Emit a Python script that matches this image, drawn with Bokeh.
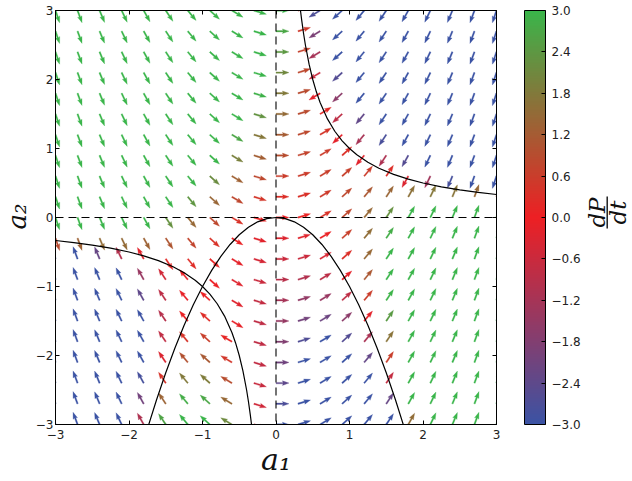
import math
from bokeh.plotting import figure
from bokeh.layouts import row
from bokeh.models import (LinearColorMapper, ColorBar, FixedTicker, CustomJSTickFormatter,
                          LinearAxis, Span, Label, BoxAnnotation, ColumnDataSource)
from bokeh.embed import file_html
from bokeh.resources import INLINE

# ---------------- data ----------------
a1_grid = [-3.0, -2.7, -2.4, -2.1, -1.8, -1.5, -1.2, -0.9, -0.6, -0.3, 0.0,
           0.3, 0.6, 0.9, 1.2, 1.5, 1.8, 2.1, 2.4, 2.7, 3.0]
a2_grid = [3.0, 2.7, 2.4, 2.1, 1.8, 1.5, 1.2, 0.9, 0.6, 0.3, 0.0,
           -0.3, -0.6, -0.9, -1.2, -1.5, -1.8, -2.1, -2.4, -2.7, -3.0]
# slope (rise/run on screen) of the arrows in each column
arrow_slope = [-3.0, -2.7, -2.4, -2.1, -1.8, -1.5, -1.2, -0.9, -0.6, -0.3, 0.0,
               0.3, 0.6, 0.9, 1.2, 1.5, 1.8, 2.1, 2.4, 2.7, 3.0]
# "+" arrow points to the right along its slope, "-" it points to the left
flow_sign = [
    "++++++++++++---------",
    "++++++++++++---------",
    "++++++++++++---------",
    "++++++++++++---------",
    "++++++++++++---------",
    "+++++++++++++--------",
    "+++++++++++++--------",
    "++++++++++++++-------",
    "++++++++++++++++-----",
    "+++++++++++++++++++++",
    "+++++++++++++++++++++",
    "+++++++++++++++++++++",
    "-----++++++++++++++++",
    "-------++++++++++++++",
    "--------+++++++++++++",
    "--------+++++++++++++",
    "---------++++++++++++",
    "---------++++++++++++",
    "---------++++++++++++",
    "---------++++++++++++",
    "---------++++++++++++",
]
# dP/dt colour value of each arrow (clipped to the colour bar range)
dPdt = [
    [3, 3, 3, 3, 3, 3, 3, 3, 3, 3, 3, 0.31, -2.69, -3, -3, -3, -3, -3, -3, -3, -3],
    [3, 3, 3, 3, 3, 3, 3, 3, 3, 3, 2.7, 0.53, -1.90, -3, -3, -3, -3, -3, -3, -3, -3],
    [3, 3, 3, 3, 3, 3, 3, 3, 3, 3, 2.4, 0.70, -1.21, -3, -3, -3, -3, -3, -3, -3, -3],
    [3, 3, 3, 3, 3, 3, 3, 3, 3, 3, 2.1, 0.81, -0.64, -2.59, -3, -3, -3, -3, -3, -3, -3],
    [3, 3, 3, 3, 3, 3, 3, 3, 3, 2.91, 1.8, 0.87, -0.17, -1.62, -3, -3, -3, -3, -3, -3, -3],
    [3, 3, 3, 3, 3, 3, 3, 3, 3, 2.31, 1.5, 0.87, 0.19, -0.81, -2.35, -3, -3, -3, -3, -3, -3],
    [3, 3, 3, 3, 3, 3, 3, 3, 2.68, 1.75, 1.2, 0.83, 0.44, -0.16, -1.16, -2.76, -3, -3, -3, -3, -3],
    [3, 3, 3, 3, 3, 3, 3, 3, 1.94, 1.26, 0.9, 0.72, 0.58, 0.32, -0.19, -1.10, -2.57, -3, -3, -3, -3],
    [3, 3, 3, 3, 3, 3, 3, 2.17, 1.31, 0.81, 0.6, 0.57, 0.61, 0.65, 0.57, 0.29, -0.31, -1.30, -2.80, -3, -3],
    [3, 3, 3, 3, 3, 3, 2.37, 1.41, 0.78, 0.43, 0.3, 0.35, 0.54, 0.81, 1.11, 1.40, 1.63, 1.74, 1.70, 1.44, 0.93],
    [3, 3, 3, 3, 3, 2.25, 1.44, 0.81, 0.36, 0.09, 0.0, 0.09, 0.36, 0.81, 1.44, 2.25, 3, 3, 3, 3, 3],
    [0.87, 1.33, 1.53, 1.52, 1.35, 1.07, 0.73, 0.37, 0.05, -0.19, -0.3, -0.23, 0.07, 0.65, 1.55, 2.83, 3, 3, 3, 3, 3],
    [-3, -3, -2.27, -0.99, -0.21, 0.17, 0.24, 0.10, -0.15, -0.42, -0.6, -0.60, -0.33, 0.32, 1.44, 3, 3, 3, 3, 3, 3],
    [-3, -3, -3, -3, -1.45, -0.47, -0.04, -0.02, -0.25, -0.59, -0.9, -1.03, -0.83, -0.16, 1.12, 3, 3, 3, 3, 3, 3],
    [-3, -3, -3, -3, -2.37, -0.84, -0.11, 0.03, -0.24, -0.71, -1.2, -1.51, -1.44, -0.81, 0.59, 2.94, 3, 3, 3, 3, 3],
    [-3, -3, -3, -3, -2.96, -0.94, 0.05, 0.24, -0.11, -0.78, -1.5, -2.04, -2.17, -1.62, -0.17, 2.44, 3, 3, 3, 3, 3],
    [-3, -3, -3, -3, -3, -0.77, 0.42, 0.61, 0.12, -0.79, -1.8, -2.63, -3, -2.59, -1.14, 1.67, 3, 3, 3, 3, 3],
    [-3, -3, -3, -3, -3, -0.32, 1.00, 1.15, 0.45, -0.74, -2.1, -3, -3, -3, -2.32, 0.62, 3, 3, 3, 3, 3],
    [-3, -3, -3, -3, -2.79, 0.39, 1.80, 1.84, 0.90, -0.65, -2.4, -3, -3, -3, -3, -0.69, 3, 3, 3, 3, 3],
    [-3, -3, -3, -3, -2.08, 1.37, 2.82, 2.70, 1.45, -0.50, -2.7, -3, -3, -3, -3, -2.27, 3, 3, 3, 3, 3],
    [-3, -3, -3, -3, -1.06, 2.63, 3, 3, 2.11, -0.29, -3, -3, -3, -3, -3, -3, 1.54, 3, 3, 3, 3],
]

# solid black curves
hyper_a1 = [0.333, 0.35, 0.375, 0.4, 0.45, 0.5, 0.55, 0.6, 0.7, 0.8, 0.9, 1.0, 1.1,
            1.25, 1.4, 1.6, 1.8, 2.0, 2.25, 2.5, 2.75, 3.0]
hyper_a2 = [3.0, 2.857, 2.667, 2.5, 2.222, 2.0, 1.818, 1.667, 1.429, 1.25, 1.111, 1.0,
            0.909, 0.8, 0.714, 0.625, 0.556, 0.5, 0.444, 0.4, 0.364, 0.333]
hyper3_a1 = [-3.0, -2.75, -2.5, -2.25, -2.0, -1.8, -1.6, -1.4, -1.25, -1.1, -1.0, -0.9,
             -0.8, -0.7, -0.6, -0.55, -0.5, -0.45, -0.4, -0.375, -0.35, -0.333]
hyper3_a2 = [-0.333, -0.364, -0.4, -0.444, -0.5, -0.556, -0.625, -0.714, -0.8, -0.909,
             -1.0, -1.111, -1.25, -1.429, -1.667, -1.818, -2.0, -2.222, -2.5, -2.667,
             -2.857, -3.0]
para_a1 = [-1.75, -1.625, -1.5, -1.375, -1.25, -1.125, -1.0, -0.875, -0.75, -0.625, -0.5,
           -0.375, -0.25, -0.125, 0.0, 0.125, 0.25, 0.375, 0.5, 0.625, 0.75, 0.875, 1.0,
           1.125, 1.25, 1.375, 1.5, 1.625, 1.75]
para_a2 = [-3.063, -2.641, -2.25, -1.891, -1.563, -1.266, -1.0, -0.766, -0.563, -0.391,
           -0.25, -0.141, -0.063, -0.016, 0.0, -0.016, -0.063, -0.141, -0.25, -0.391,
           -0.563, -0.766, -1.0, -1.266, -1.563, -1.891, -2.25, -2.641, -3.063]

axis_ticks = [-3, -2, -1, 0, 1, 2, 3]
cbar_ticks = [-3.0, -2.4, -1.8, -1.2, -0.6, 0.0, 0.6, 1.2, 1.8, 2.4, 3.0]

# ---------------- style ----------------
FRAME_W, FRAME_H = 441, 414
TOTAL_H = 478
LEFT_W = 32
ARROW_LEN, SHAFT_W = 13.0, 1.45
HEAD_LEN, HEAD_AXIS, HEAD_HALF = 6.6, 5.9, 2.3
C_BLUE, C_RED, C_GREEN = (59, 83, 164), (237, 32, 36), (58, 181, 74)
TXT = "#222222"


def mix(c1, c2, t):
    return "#%02x%02x%02x" % tuple(int(round(a + (b - a) * t)) for a, b in zip(c1, c2))


palette = [mix(C_BLUE, C_RED, k / 127) for k in range(128)] + \
          [mix(C_RED, C_GREEN, k / 127) for k in range(128)]
mapper = LinearColorMapper(palette=palette, low=-3, high=3)

p = figure(frame_width=FRAME_W, frame_height=FRAME_H, x_range=(-3, 3), y_range=(-3, 3),
           output_backend="svg", toolbar_location=None,
           min_border_left=55 - LEFT_W, min_border_right=86, min_border_top=10,
           min_border_bottom=TOTAL_H - 10 - FRAME_H,
           background_fill_color="white", border_fill_color="white")
p.xgrid.visible = False
p.ygrid.visible = False
p.outline_line_color = "black"
p.outline_line_alpha = 1.0

# ---------------- arrows (quiver, pivot at tail, fixed screen length) ----------------
sx_per = FRAME_W / 6.0
sy_per = FRAME_H / 6.0
xs_list, ys_list, vals = [], [], []
profile = [(0, -SHAFT_W / 2), (ARROW_LEN - HEAD_AXIS, -SHAFT_W / 2),
           (ARROW_LEN - HEAD_LEN, -HEAD_HALF), (ARROW_LEN, 0),
           (ARROW_LEN - HEAD_LEN, HEAD_HALF), (ARROW_LEN - HEAD_AXIS, SHAFT_W / 2),
           (0, SHAFT_W / 2)]
for j, a2 in enumerate(a2_grid):
    for i, a1 in enumerate(a1_grid):
        s = 1.0 if flow_sign[j][i] == "+" else -1.0
        u, v = s, s * arrow_slope[i]
        n = math.hypot(u, v)
        ux, uy = u / n, v / n
        nx, ny = -uy, ux
        xs_list.append([a1 + (t * ux + q * nx) / sx_per for t, q in profile])
        ys_list.append([a2 + (t * uy + q * ny) / sy_per for t, q in profile])
        vals.append(dPdt[j][i])

src = ColumnDataSource(dict(xs=xs_list, ys=ys_list, val=vals))
p.patches("xs", "ys", source=src, fill_color={"field": "val", "transform": mapper},
          line_color={"field": "val", "transform": mapper}, line_width=0.3)

# ---------------- reference lines ----------------
p.add_layout(Span(location=0, dimension="height", line_color="black", line_width=1.1,
                  line_dash="8 5"))
p.add_layout(Span(location=0, dimension="width", line_color="black", line_width=1.1,
                  line_dash="8 5"))
for xa, ya in [(hyper_a1, hyper_a2), (hyper3_a1, hyper3_a2), (para_a1, para_a2)]:
    p.line(xa, ya, line_color="black", line_width=1.2)

# ---------------- axes ----------------
fmt = CustomJSTickFormatter(code="return (tick < 0 ? '\\u2212' : '') + Math.abs(tick).toFixed(0);")
blank = CustomJSTickFormatter(code="return '';")
for ax in (p.xaxis[0], p.yaxis[0]):
    ax.ticker = FixedTicker(ticks=axis_ticks)
    ax.formatter = fmt
    ax.major_tick_in = 4
    ax.major_tick_out = 0
    ax.minor_tick_line_color = None
    ax.axis_line_color = "black"
    ax.major_tick_line_color = "black"
    ax.major_label_text_font = "DejaVu Sans"
    ax.major_label_text_font_size = "12px"
    ax.major_label_text_color = TXT
p.xaxis[0].axis_label = "a\u2081"
p.xaxis[0].axis_label_text_font = "DejaVu Serif"
p.xaxis[0].axis_label_text_font_style = "italic"
p.xaxis[0].axis_label_text_font_size = "30px"
p.xaxis[0].axis_label_text_color = "#111111"
p.xaxis[0].axis_label_standoff = 0
p.xaxis[0].major_label_standoff = 5
p.yaxis[0].major_label_standoff = 2

top_ax = LinearAxis(ticker=FixedTicker(ticks=axis_ticks), formatter=blank,
                    major_tick_in=4, major_tick_out=0, minor_tick_line_color=None,
                    major_label_standoff=0, axis_line_color="black")
p.add_layout(top_ax, "above")
right_ax = LinearAxis(ticker=FixedTicker(ticks=axis_ticks), formatter=blank,
                      major_tick_in=4, major_tick_out=0, minor_tick_line_color=None,
                      major_label_standoff=0, axis_line_color="black")
p.add_layout(right_ax, "right")

# ---------------- colour bar ----------------
cfmt = CustomJSTickFormatter(code="return (tick < 0 ? '\\u2212' : '') + Math.abs(tick).toFixed(1);")
cbar = ColorBar(color_mapper=mapper, ticker=FixedTicker(ticks=cbar_ticks), formatter=cfmt,
                width=21, height=FRAME_H, padding=0, margin=0, location=(28, 0),
                major_tick_in=4, major_tick_out=0, major_tick_line_color="black",
                minor_tick_line_color=None, bar_line_color="black", label_standoff=6,
                major_label_text_font="DejaVu Sans", major_label_text_font_size="12px",
                major_label_text_color=TXT, background_fill_color=None)
p.add_layout(cbar, "right")


def side_panel(width):
    f = figure(width=width, height=TOTAL_H, x_range=(0, 1), y_range=(0, 1),
               output_backend="svg", toolbar_location=None,
               x_axis_location=None, y_axis_location=None,
               min_border_left=0, min_border_right=0, min_border_top=0, min_border_bottom=0,
               background_fill_color="white", border_fill_color="white")
    f.xgrid.visible = False
    f.ygrid.visible = False
    f.outline_line_color = None
    return f


lab_style = dict(x_units="screen", y_units="screen", text_font="DejaVu Serif",
                 text_font_style="italic", text_color="#111111",
                 angle=math.pi / 2, text_align="center", text_baseline="middle")

# ---------------- y axis label (own narrow panel on the left) ----------------
lp = side_panel(LEFT_W)
lp.add_layout(Label(x=LEFT_W / 2, y=FRAME_H / 2, text="a\u2082", text_font_size="26px",
                    **lab_style))

# ---------------- colour bar label dP/dt (own narrow panel on the right) ----------------
rp = side_panel(48)
mid_y = 424 - 213
rp.add_layout(Label(x=13, y=mid_y, text="dP", text_font_size="23px", **lab_style))
rp.add_layout(Label(x=34, y=mid_y, text="dt", text_font_size="23px", **lab_style))
rp.add_layout(BoxAnnotation(left=23.0, right=24.4, bottom=mid_y - 16, top=mid_y + 16,
                            left_units="screen", right_units="screen",
                            top_units="screen", bottom_units="screen",
                            fill_color="#111111", fill_alpha=1.0, line_color=None))

layout = row(lp, p, rp)
open("out.html", "w").write(file_html(layout, INLINE))
